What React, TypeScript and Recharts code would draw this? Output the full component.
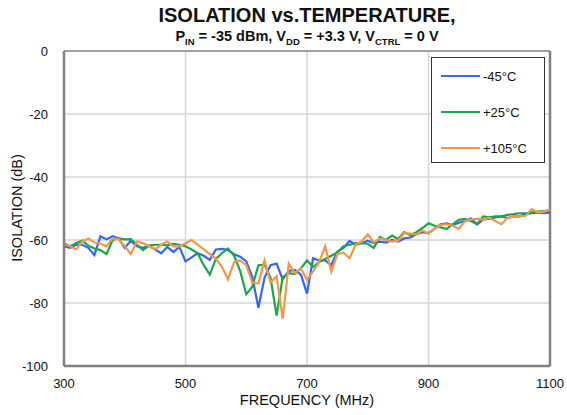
import React from 'react';
import {
  LineChart, Line, XAxis, YAxis, CartesianGrid, ReferenceLine,
} from 'recharts';

// frequency points (MHz)
const FREQ = [
  300, 310, 320, 330, 340, 350, 360, 370, 380, 390,
  400, 410, 420, 430, 440, 450, 460, 470, 480, 490,
  500, 510, 520, 530, 540, 550, 560, 570, 580, 590,
  600, 610, 620, 630, 640, 650, 660, 670, 680, 690,
  700, 710, 720, 730, 740, 750, 760, 770, 780, 790,
  800, 810, 820, 830, 840, 850, 860, 870, 880, 890,
  900, 910, 920, 930, 940, 950, 960, 970, 980, 990,
  1000, 1010, 1020, 1030, 1040, 1050, 1060, 1070, 1080, 1090,
  1100,
];

// isolation (dB) at -45°C
const ISO_M45 = [
  -62, -62.5, -61.5, -61.5, -62.5, -64.8, -58.8, -59.8, -58.8, -59.5,
  -62.5, -60.2, -62, -62.5, -61.8, -63, -64.2, -62.2, -63.8, -62.2,
  -66.8, -65.5, -64.2, -65, -66.3, -63, -62.8, -63.2, -64.5, -65.3,
  -66.8, -71.8, -81.5, -72, -68, -67.5, -72.5, -69.8, -69.5, -71,
  -77, -65.8, -66.5, -66.5, -68, -63.7, -62.5, -60.3, -61.5, -61,
  -60.2, -61, -60.5, -60.8, -60, -60.5, -59.5, -59.2, -58.2, -57.5,
  -57.8, -56.5, -55, -54.7, -55.3, -54.5, -54, -53.2, -55, -53.5,
  -53.3, -52.8, -52.5, -53, -52.5, -52.5, -51.8, -51.5, -51.3, -51.5,
  -51.3,
];

// isolation (dB) at +25°C
const ISO_P25 = [
  -61, -62, -61, -60.2, -61.8, -62.7, -63.2, -64.5, -60, -59.5,
  -59.8, -59.7, -61.5, -63.2, -61.8, -61.5, -61.5, -61.7, -61.2, -61.5,
  -62, -63, -64.2, -68, -71, -66, -64.2, -62.7, -65, -69.8,
  -77.2, -74.8, -68, -67.8, -72, -84, -71.8, -70.5, -70.8, -69,
  -66.5, -68.6, -67, -66, -65, -64, -62, -61.5, -61, -61,
  -61.2, -62.5, -59, -60, -58.6, -59.7, -57.5, -58.5, -57.5, -56.2,
  -54.7, -55.5, -56, -56.5, -55, -53.6, -53.3, -54, -55, -52.5,
  -52.8, -52.5, -52.5, -52, -51.8, -51.5, -51.5, -51.2, -51, -50.8,
  -50.7,
];

// isolation (dB) at +105°C
const ISO_P105 = [
  -61.3, -62, -63, -60.5, -59.5, -60.8, -61.2, -62, -59.5, -59.8,
  -62, -64.5, -60.5, -61, -62, -63, -61.5, -60.5, -62, -62,
  -61, -60, -61.5, -63, -64.5, -66, -68.5, -72.5, -67, -66.5,
  -68, -73.5, -73.8, -66.5, -73.5, -71.5, -85, -67.5, -70.5, -69,
  -72.7, -70, -67, -62, -70, -64.5, -64, -65.8, -61.5, -60.5,
  -58.2, -60.8, -59.5, -60, -60.5, -60.2, -57.8, -58, -58.2, -57,
  -58, -56.5, -55.2, -55, -55.5, -56.5, -54, -53.5, -53.2, -53.5,
  -53, -54, -55, -53, -52.5, -52.5, -52.3, -50.2, -51.3, -51,
  -50.3,
];

const X_TICKS = [300, 500, 700, 900, 1100];
const Y_TICKS = [-100, -80, -60, -40, -20, 0];

const SERIES = [
  { key: 'm45', name: '-45°C', color: '#3366ff' },
  { key: 'p25', name: '+25°C', color: '#18a84a' },
  { key: 'p105', name: '+105°C', color: '#f79646' },
];

const FONT = '"Liberation Sans", Arial, sans-serif';

const data = FREQ.map((f, i) => ({
  freq: f,
  m45: ISO_M45[i],
  p25: ISO_P25[i],
  p105: ISO_P105[i],
}));

const subStyle: React.CSSProperties = { fontSize: 9.5, fontWeight: 'bold' };

function LegendBox() {
  return (
    <div style={{
      position: 'absolute', left: 431, top: 57, width: 114, height: 106,
      border: '1px solid #333', background: '#fff', boxSizing: 'border-box',
    }}>
      {SERIES.map((s, i) => (
        <div key={s.key} style={{
          position: 'absolute', left: 9, top: 10 + i * 36, height: 16,
          display: 'flex', alignItems: 'center',
        }}>
          <div style={{ width: 39, height: 2, background: s.color }} />
          <span style={{ marginLeft: 3, fontSize: 13, color: '#111' }}>{s.name}</span>
        </div>
      ))}
    </div>
  );
}

export default function App() {
  return (
    <div style={{
      position: 'absolute', left: 0, top: 0, width: 567, height: 415,
      background: '#fff', fontFamily: FONT, color: '#111',
    }}>
      <div style={{
        position: 'absolute', left: 0, width: 614, top: 4, textAlign: 'center',
        fontSize: 20, fontWeight: 'bold',
      }}>
        ISOLATION vs.TEMPERATURE,
      </div>
      <div style={{
        position: 'absolute', left: 0, width: 614, top: 28, textAlign: 'center',
        fontSize: 14.5, fontWeight: 'bold', lineHeight: '16px',
      }}>
        P<sub style={subStyle}>IN</sub> = -35 dBm, V<sub style={subStyle}>DD</sub> = +3.3 V, V<sub style={subStyle}>CTRL</sub> = 0 V
      </div>

      <LineChart
        width={567}
        height={415}
        data={data}
        margin={{ top: 51, right: 17, bottom: 0, left: 24 }}
        style={{ position: 'absolute', left: 0, top: 0 }}
      >
        <CartesianGrid stroke="#d6d6d6" strokeWidth={1.5} />
        <XAxis
          dataKey="freq"
          type="number"
          domain={[300, 1100]}
          ticks={X_TICKS}
          tickLine={false}
          axisLine={{ stroke: '#808080', strokeWidth: 2.5 }}
          tick={{ fill: '#111', fontSize: 13, fontFamily: FONT }}
          tickMargin={7}
          height={49}
        />
        <YAxis
          type="number"
          domain={[-100, 0]}
          ticks={Y_TICKS}
          tickLine={false}
          axisLine={{ stroke: '#808080', strokeWidth: 2.5 }}
          tick={{ fill: '#111', fontSize: 13, fontFamily: FONT }}
          tickMargin={10}
          width={40}
        />
        <ReferenceLine x={1100} stroke="#808080" strokeWidth={2.5} />
        <ReferenceLine y={0} stroke="#8a8a8a" strokeWidth={1.5} />
        {SERIES.map((s) => (
          <Line
            key={s.key}
            type="linear"
            dataKey={s.key}
            name={s.name}
            stroke={s.color}
            strokeWidth={2.2}
            dot={false}
            isAnimationActive={false}
          />
        ))}
      </LineChart>

      <LegendBox />

      <div style={{
        position: 'absolute', left: 17, top: 208, width: 0, height: 0,
      }}>
        <div style={{
          position: 'absolute', left: 0, top: 0, transform: 'translate(-50%, -50%) rotate(-90deg)',
          whiteSpace: 'nowrap', fontSize: 14.5,
        }}>
          ISOLATION (dB)
        </div>
      </div>
      <div style={{
        position: 'absolute', left: 0, width: 614, top: 392, textAlign: 'center',
        fontSize: 14.5,
      }}>
        FREQUENCY (MHz)
      </div>
    </div>
  );
}
